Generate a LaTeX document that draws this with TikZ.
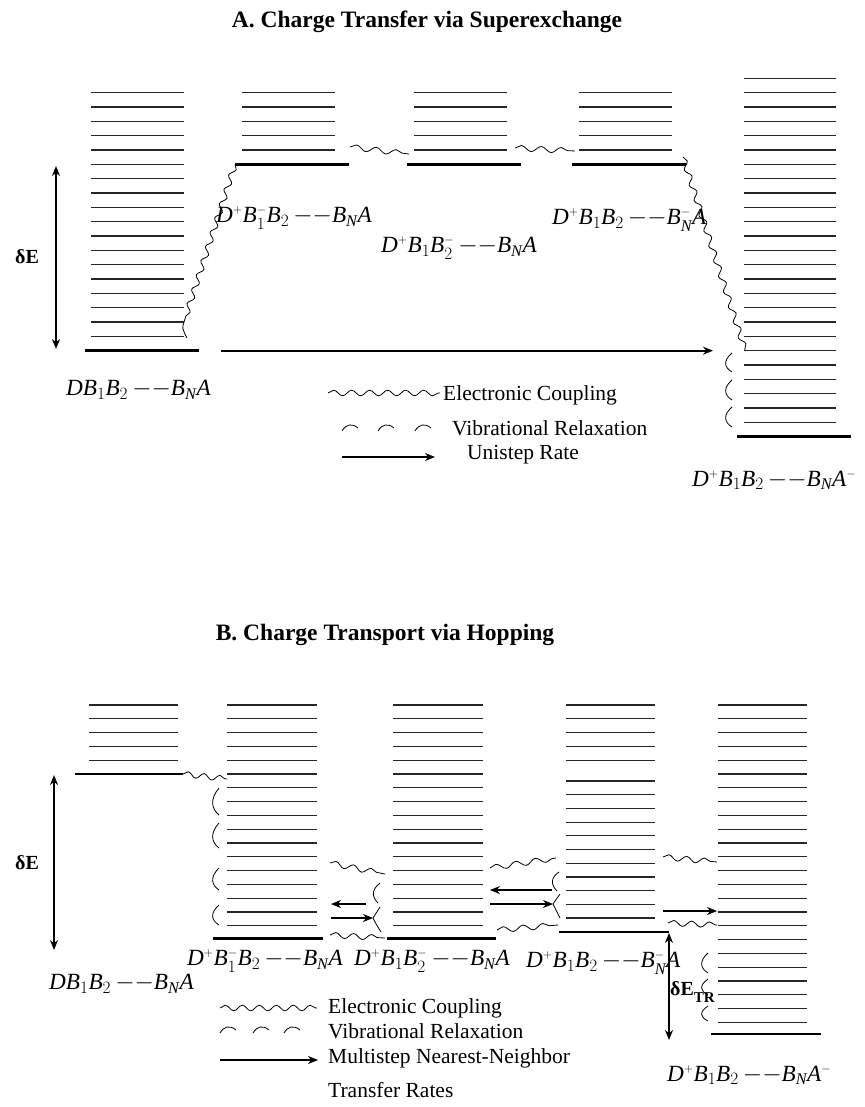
\documentclass[tikz,border=0pt]{standalone}
\usepackage{fontspec}
\setmainfont{Liberation Serif}
\usetikzlibrary{decorations.pathmorphing,arrows.meta}
\newcommand{\vibc}[4]{\draw[vib] ({#2+6},{#3}) .. controls ({#2-3},{#3+0.4*(#4-#3)}) and ({#2-2},{#4-0.25*(#4-#3)}) .. ({#2+6},{#4}) coordinate (#1);}
\newcommand{\vibleg}[3]{\draw[vib] ({#2},{#3+3}) .. controls ({#2+4},{#3-4}) and ({#2+10},{#3-5}) .. ({#2+16},{#3}) coordinate (#1);}
\newcommand{\Mi}[1]{\mathit{#1}}
\newcommand{\Pl}{{\scriptscriptstyle +}}
\newcommand{\Mn}{{\scriptscriptstyle -}}
\newcommand{\Dd}{\,{-}{-}}
\begin{document}
\begin{tikzpicture}[x=1pt,y=-1pt,
  lev/.style={line width=1.2pt,draw=black!85},
  gnd/.style={line width=2.6pt},
  wavy/.style={decorate,decoration={snake,segment length=#1,amplitude=2.8pt},line width=0.8pt},
  wavy/.default=15pt,
  vib/.style={line width=0.8pt},
  rate/.style={line width=1.8pt,-{Stealth[length=10pt,width=8pt]}},
  dbl/.style={line width=1.8pt,{Stealth[length=10pt,width=8pt]}-{Stealth[length=10pt,width=8pt]}},
  lbl/.style={font=\fontsize{23.2}{27}\selectfont,inner sep=0pt,anchor=west},
  leg/.style={font=\fontsize{21.5}{26}\selectfont,inner sep=0pt,anchor=west},
  ttl/.style={font=\bfseries\fontsize{23.5}{28}\selectfont,inner sep=0pt},
  dE/.style={font=\bfseries\fontsize{20}{24}\selectfont,inner sep=0pt,anchor=west}]
\useasboundingbox (0,0) rectangle (864,1107);
\fill[white] (0,0) rectangle (864,1107);

% ================= Panel A =================
\node[ttl] (titleA) at (427,22) {A. Charge Transfer via Superexchange};

% levels
\foreach \k in {1,...,18} \draw[lev] (91,{78.33+14.333*\k}) -- (184,{78.33+14.333*\k});
\foreach \k in {1,...,5} {
  \draw[lev] (242,{78.33+14.333*\k}) -- (335,{78.33+14.333*\k});
  \draw[lev] (414,{78.33+14.333*\k}) -- (507,{78.33+14.333*\k});
  \draw[lev] (579,{78.33+14.333*\k}) -- (672,{78.33+14.333*\k});
}
\foreach \k in {0,...,24} \draw[lev] (744,{78.33+14.333*\k}) -- (836,{78.33+14.333*\k});

% ground levels
\coordinate (gA1l) at (85,350.7);  \coordinate (gA1r) at (199,350.7);
\coordinate (gA2l) at (235,164.3); \coordinate (gA2r) at (349,164.3);
\coordinate (gA3l) at (407,164.3); \coordinate (gA3r) at (521,164.3);
\coordinate (gA4l) at (572,164.3); \coordinate (gA4r) at (686,164.3);
\coordinate (gA5l) at (737,436.5); \coordinate (gA5r) at (851,436.5);
\draw[gnd] (gA1l) -- (gA1r);
\draw[gnd] (gA2l) -- (gA2r);
\draw[gnd] (gA3l) -- (gA3r);
\draw[gnd] (gA4l) -- (gA4r);
\draw[gnd] (gA5l) -- (gA5r);

% electronic couplings
\coordinate (wA1e) at (184,322);
\draw[wavy=15pt] (gA2l) -- (wA1e);
\coordinate (wA1t) at (187,338);
\draw[vib] (wA1e) .. controls (182,328) .. (wA1t);
\coordinate (wA2s) at (350,147); \coordinate (wA2e) at (409,154);
\draw[wavy=20pt] (wA2s) -- (wA2e);
\coordinate (wA3s) at (515,148); \coordinate (wA3e) at (575,151);
\draw[wavy=20pt] (wA3s) -- (wA3e);
\coordinate (wA4s) at (683,157); \coordinate (wA4e) at (745,350);
\draw[wavy=16pt] (wA4s) -- (wA4e);

% vibrational relaxation
\vibc{vA1}{726}{353}{372}
\vibc{vA2}{726}{380}{400}
\vibc{vA3}{726}{407}{427}

% unistep rate
\coordinate (uA1) at (221,350.7); \coordinate (uA2) at (713,350.7);
\draw[rate] (uA1) -- (uA2);

% delta E
\coordinate (dAt) at (56,166); \coordinate (dAb) at (56,349);
\draw[dbl] (dAt) -- (dAb);
\node[dE] (dElabA) at (15,257) {δE};

% labels
\node[lbl] (lA1) at (66,390) {$\Mi{D}\Mi{B}_{1}\Mi{B}_{2}\Dd\Mi{B}_{\Mi{N}}\Mi{A}$};
\node[lbl] (lA2) at (216,218) {$\Mi{D}^{\Pl}\Mi{B}_{1}^{\Mn}\Mi{B}_{2}\Dd\Mi{B}_{\Mi{N}}\Mi{A}$};
\node[lbl] (lA3) at (381,248) {$\Mi{D}^{\Pl}\Mi{B}_{1}\Mi{B}_{2}^{\Mn}\Dd\Mi{B}_{\Mi{N}}\Mi{A}$};
\node[lbl] (lA4) at (552,220) {$\Mi{D}^{\Pl}\Mi{B}_{1}\Mi{B}_{2}\Dd\Mi{B}_{\Mi{N}}^{\Mn}\Mi{A}$};
\node[lbl] (lA5) at (692,480) {$\Mi{D}^{\Pl}\Mi{B}_{1}\Mi{B}_{2}\Dd\Mi{B}_{\Mi{N}}\Mi{A}^{\Mn}$};

% legend
\coordinate (legA1s) at (328,393); \coordinate (legA1e) at (440,393);
\draw[wavy=18pt] (legA1s) -- (legA1e);
\node[leg] (legA1) at (443,395) {Electronic Coupling};
\vibleg{lvA1}{342}{428}
\vibleg{lvA2}{378}{428}
\vibleg{lvA3}{415}{428}
\node[leg] (legA2) at (452,428) {Vibrational Relaxation};
\coordinate (legA3s) at (342,457); \coordinate (legA3e) at (435,457);
\draw[rate] (legA3s) -- (legA3e);
\node[leg] (legA3) at (467,455) {Unistep Rate};

% ================= Panel B =================
\node[ttl] (titleB) at (385,635) {B. Charge Transport via Hopping};

\foreach \k in {0,...,4} \draw[lev] (89,{705+13.8*\k}) -- (178,{705+13.8*\k});
\foreach \k in {0,...,16} {
  \draw[lev] (227,{705+13.8*\k}) -- (317,{705+13.8*\k});
  \draw[lev] (393,{705+13.8*\k}) -- (483,{705+13.8*\k});
}
\foreach \k in {0,...,4} \draw[lev] (566,{705+13.8*\k}) -- (655,{705+13.8*\k});
\foreach \k in {0,...,10} \draw[lev] (566,{781+13.7*\k}) -- (655,{781+13.7*\k});
\foreach \k in {0,...,23} \draw[lev] (718,{705+13.8*\k}) -- (807,{705+13.8*\k});

\coordinate (gB1l) at (75,774);   \coordinate (gB1r) at (183,774);
\coordinate (gB2l) at (213,938.5); \coordinate (gB2r) at (323,938.5);
\coordinate (gB3l) at (387,938.5); \coordinate (gB3r) at (496,938.5);
\coordinate (gB4l) at (559,932);   \coordinate (gB4r) at (669,932);
\coordinate (gB5l) at (711,1034);  \coordinate (gB5r) at (821,1034);
\draw[gnd] (gB1l) -- (gB1r);
\draw[gnd] (gB2l) -- (gB2r);
\draw[gnd] (gB3l) -- (gB3r);
\draw[gnd] (gB4l) -- (gB4r);
\draw[gnd] (gB5l) -- (gB5r);

% couplings
\coordinate (wB1e) at (227,779);
\draw[wavy=16pt] (gB1r) -- (wB1e);
\vibc{vB1}{213}{788}{815}
\vibc{vB2}{213}{823}{848}
\vibc{vB3}{213}{868}{890}
\vibc{vB4}{213}{905}{925}

% gap 2-3
\coordinate (wB2s) at (330,863); \coordinate (wB2e) at (385,874);
\draw[wavy=18pt] (wB2s) -- (wB2e);
\coordinate (aB1s) at (366,904); \coordinate (aB1e) at (331,904);
\draw[rate] (aB1s) -- (aB1e);
\coordinate (aB2s) at (331,918); \coordinate (aB2e) at (373,918);
\draw[rate] (aB2s) -- (aB2e);
\draw[vib] (380,883) .. controls (371,890) and (372,897) .. (378,903) coordinate (vB5);
\draw[vib] (380,907) .. controls (376,912) .. (aB2e) .. controls (376,924) .. (381,932);
\coordinate (wB3s) at (330,935); \coordinate (wB3e) at (385,938);
\draw[wavy=18pt] (wB3s) -- (wB3e);

% gap 3-4
\coordinate (wB4s) at (490,868); \coordinate (wB4e) at (556,858);
\draw[wavy=20pt] (wB4s) -- (wB4e);
\coordinate (aB3s) at (552,890); \coordinate (aB3e) at (490,890);
\draw[rate] (aB3s) -- (aB3e);
\coordinate (aB4s) at (490,904); \coordinate (aB4e) at (553,904);
\draw[rate] (aB4s) -- (aB4e);
\draw[vib] (559,872) .. controls (550,878) and (551,885) .. (557,891) coordinate (vB6);
\draw[vib] (560,894) .. controls (556,899) .. (aB4e) .. controls (556,911) .. (560,918);
\coordinate (wB5s) at (497,930); \coordinate (wB5e) at (558,925);
\draw[wavy=20pt] (wB5s) -- (wB5e);

% gap 4-5
\coordinate (wB6s) at (663,857); \coordinate (wB6e) at (717,862);
\draw[wavy=18pt] (wB6s) -- (wB6e);
\coordinate (aB5s) at (663,911); \coordinate (aB5e) at (717,911);
\draw[rate] (aB5s) -- (aB5e);
\coordinate (wB7s) at (668,923); \coordinate (wB7e) at (717,925);
\draw[wavy=18pt] (wB7s) -- (wB7e);

\vibc{vB7}{702}{953}{973}
\vibc{vB8}{702}{979}{995}
\vibc{vB9}{702}{1006}{1021}

% delta E
\coordinate (dBt) at (54,775); \coordinate (dBb) at (54,950);
\draw[dbl] (dBt) -- (dBb);
\node[dE] (dElabB) at (15,863) {δE};
\coordinate (dTRt) at (669,933); \coordinate (dTRb) at (669,1040);
\draw[dbl] (dTRt) -- (dTRb);
\node[dE] (dETR) at (670,992) {δE\raisebox{-0.3em}{\fontsize{15}{18}\selectfont TR}};

% labels
\node[lbl] (lB1) at (49,984) {$\Mi{D}\Mi{B}_{1}\Mi{B}_{2}\Dd\Mi{B}_{\Mi{N}}\Mi{A}$};
\node[lbl] (lB2) at (187,961) {$\Mi{D}^{\Pl}\Mi{B}_{1}^{\Mn}\Mi{B}_{2}\Dd\Mi{B}_{\Mi{N}}\Mi{A}$};
\node[lbl] (lB3) at (354,961) {$\Mi{D}^{\Pl}\Mi{B}_{1}\Mi{B}_{2}^{\Mn}\Dd\Mi{B}_{\Mi{N}}\Mi{A}$};
\node[lbl] (lB4) at (526,963) {$\Mi{D}^{\Pl}\Mi{B}_{1}\Mi{B}_{2}\Dd\Mi{B}_{\Mi{N}}^{\Mn}\Mi{A}$};
\node[lbl] (lB5) at (667,1075) {$\Mi{D}^{\Pl}\Mi{B}_{1}\Mi{B}_{2}\Dd\Mi{B}_{\Mi{N}}\Mi{A}^{\Mn}$};

% legend
\coordinate (legB1s) at (220,1008); \coordinate (legB1e) at (317,1008);
\draw[wavy=17pt] (legB1s) -- (legB1e);
\node[leg] (legB1) at (328,1008) {Electronic Coupling};
\vibleg{lvB1}{220}{1030}
\vibleg{lvB2}{253}{1030}
\vibleg{lvB3}{284}{1030}
\node[leg] (legB2) at (328,1031) {Vibrational Relaxation};
\coordinate (legB3s) at (220,1060); \coordinate (legB3e) at (318,1060);
\draw[rate] (legB3s) -- (legB3e);
\node[leg] (legB3) at (328,1058) {Multistep Nearest-Neighbor};
\node[leg] (legB4) at (328,1090) {Transfer Rates};
\end{tikzpicture}
\end{document}
